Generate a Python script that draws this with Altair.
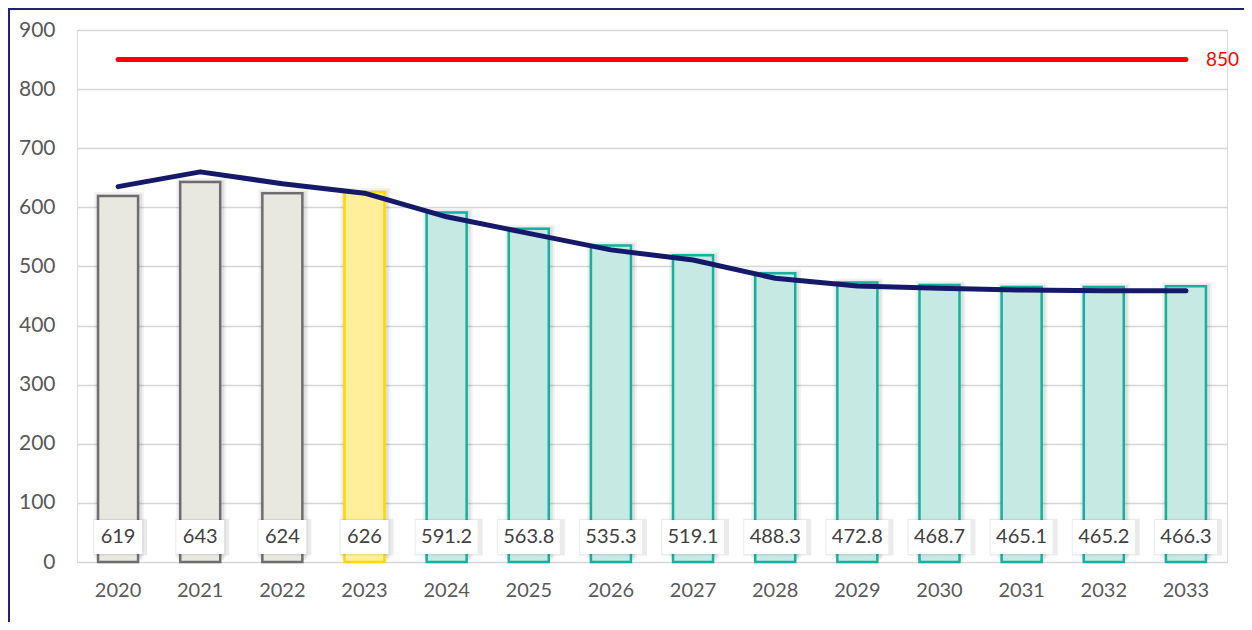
import altair as alt
import pandas as pd

years = [str(y) for y in range(2020, 2034)]
bar_values = [619, 643, 624, 626, 591.2, 563.8, 535.3, 519.1, 488.3, 472.8, 468.7, 465.1, 465.2, 466.3]
bar_labels = ["619", "643", "624", "626", "591.2", "563.8", "535.3", "519.1", "488.3", "472.8",
              "468.7", "465.1", "465.2", "466.3"]
line_values = [635, 660, 640, 624, 584, 556, 528, 511, 480, 467, 463, 460, 459, 459]
groups = ["actual"] * 3 + ["current"] + ["forecast"] * 10
threshold = 850

df = pd.DataFrame({"year": years, "value": bar_values, "label": bar_labels,
                   "trend": line_values, "group": groups})
thr_df = pd.DataFrame({"year": [years[0], years[-1]], "value": [threshold, threshold]})
one = pd.DataFrame({"a": [0]})

FONT = "Lato"
x_enc = alt.X("year:N", sort=years, title=None,
              scale=alt.Scale(paddingInner=0.0, paddingOuter=0.0),
              axis=alt.Axis(labelAngle=0, ticks=False, domain=False, grid=False,
                            labelFont=FONT, labelFontSize=20, labelColor="#595959",
                            labelPadding=18))
y_scale = alt.Scale(domain=[0, 900], nice=False, zero=True)
y_enc = alt.Y("value:Q", scale=y_scale, title=None,
              axis=alt.Axis(values=list(range(0, 901, 100)), ticks=False, domain=False,
                            labelFont=FONT, labelFontSize=21, labelColor="#595959",
                            labelPadding=22, gridColor="#D6D6D6", gridWidth=1.5))

fill_scale = alt.Scale(domain=["actual", "current", "forecast"],
                       range=["#E8E8E0", "#FFEE9A", "#C7E9E3"])
stroke_scale = alt.Scale(domain=["actual", "current", "forecast"],
                         range=["#6E6E6E", "#FFD800", "#13B29E"])

base = alt.Chart(df)

shadow = base.mark_bar(size=50, color="black", opacity=0.05, xOffset=1, yOffset=-4).encode(
    x=x_enc, y=y_enc)
shadow2 = base.mark_bar(size=46, color="black", opacity=0.07, xOffset=1, yOffset=-2).encode(
    x=x_enc, y=y_enc)

bars = base.mark_bar(size=40, strokeWidth=2.5).encode(
    x=x_enc, y=y_enc,
    fill=alt.Fill("group:N", scale=fill_scale, legend=None),
    stroke=alt.Stroke("group:N", scale=stroke_scale, legend=None))

short = base.transform_filter("length(datum.label) <= 3")
long_ = base.transform_filter("length(datum.label) > 3")

def boxes(src, w):
    sh = src.mark_bar(size=w + 6, color="black", opacity=0.08, xOffset=2).encode(
        x=x_enc, y=alt.datum(73, scale=y_scale), y2=alt.datum(11))
    bx = src.mark_bar(size=w, color="white").encode(
        x=x_enc, y=alt.datum(71, scale=y_scale), y2=alt.datum(13.5))
    return sh + bx

box_layers = boxes(short, 48) + boxes(long_, 62)

texts = base.mark_text(font=FONT, fontSize=20, color="#404040", baseline="middle").encode(
    x=x_enc, y=alt.datum(42, scale=y_scale), text="label:N")

line = base.mark_line(interpolate="linear", color="#15196A", strokeWidth=5,
                      strokeCap="round", strokeJoin="round").encode(
    x=x_enc, y=alt.Y("trend:Q", scale=y_scale))

thr_line = alt.Chart(thr_df).mark_line(color="#FF0000", strokeWidth=5, strokeCap="round").encode(
    x=alt.X("year:N", sort=years), y=alt.Y("value:Q", scale=y_scale))
thr_text = alt.Chart(thr_df).transform_filter(f"datum.year == '{years[-1]}'").mark_text(
    font=FONT, fontSize=19, color="#FF0000", align="left", baseline="middle", dx=20,
    clip=False).encode(
    x=alt.X("year:N", sort=years), y=alt.Y("value:Q", scale=y_scale),
    text=alt.Text("value:Q", format="d"))

border = alt.Chart(one).mark_rect(fillOpacity=0, stroke="#1F2370", strokeWidth=2, clip=False).encode(
    x=alt.value(-68), x2=alt.value(1300), y=alt.value(-21), y2=alt.value(800))

chart = alt.layer(shadow, shadow2, bars, box_layers, texts, line, thr_line, thr_text, border).properties(
    width=1150, height=532,
    autosize=alt.AutoSizeParams(type="none"),
    padding={"left": 69, "top": 22, "right": 17, "bottom": 60},
).configure_view(stroke=None).configure(background="white")

chart.save("out.html", embed_options={"renderer": "svg", "actions": False})
